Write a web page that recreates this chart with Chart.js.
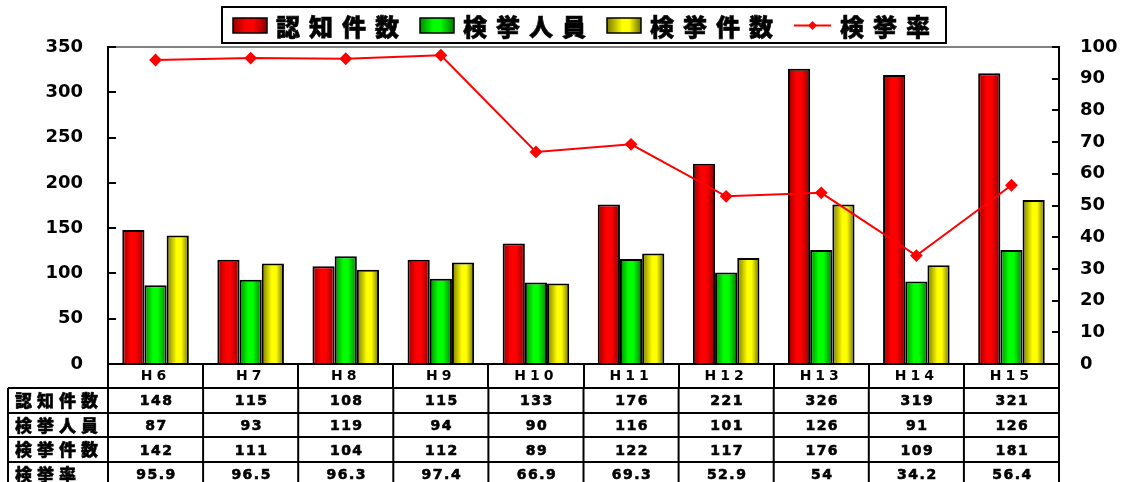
<!DOCTYPE html>
<html><head><meta charset="utf-8">
<script src="https://cdn.jsdelivr.net/npm/chart.js@4/dist/chart.umd.min.js"></script>
<style>html,body{margin:0;padding:0;background:#fff;}canvas{display:block}</style>
</head><body>
<canvas id="c" width="1124" height="482"></canvas>
<script>
// ---- data ----
const categories = ['H6','H7','H8','H9','H10','H11','H12','H13','H14','H15'];
const seriesNames = ['認知件数','検挙人員','検挙件数','検挙率'];
const recognized = [148,115,108,115,133,176,221,326,319,321];
const arrestedPersons = [87,93,119,94,90,116,101,126,91,126];
const arrestedCases = [142,111,104,112,89,122,117,176,109,181];
const arrestRate = [95.9,96.5,96.3,97.4,66.9,69.3,52.9,54,34.2,56.4];
const leftAxis = {min:0, max:350, step:50};
const rightAxis = {min:0, max:100, step:10};

// ---- styles ----
const redShade = [[0,'#9a0000'],[0.38,'#ff0000'],[0.6,'#ff0000'],[1,'#8c0000']];
const greenShade = [[0,'#008a00'],[0.38,'#00ff00'],[0.6,'#00ff00'],[1,'#007a00']];
const yellowShade = [[0,'#7a7a00'],[0.45,'#ffff00'],[0.65,'#ffff00'],[1,'#6e6e00']];
const numFont = '"DejaVu Sans"';
const cjkFont = '"Noto Sans CJK JP"';

function makeGradient(ctx, x0, x1, stops){
  const g = ctx.createLinearGradient(x0,0,x1,0);
  stops.forEach(s=>g.addColorStop(s[0], s[1]));
  return g;
}
function heavyText(ctx, txt, x, y, w){
  ctx.fillText(txt, x, y);
  ctx.lineWidth = w; ctx.strokeStyle = ctx.fillStyle;
  ctx.strokeText(txt, x, y);
}

const prep = {
  id:'prep',
  beforeDraw(chart){
    const ctx = chart.ctx, a = chart.chartArea;
    ctx.save();
    ctx.strokeStyle = '#808080'; ctx.lineWidth = 2;
    ctx.beginPath(); ctx.moveTo(a.left, a.top); ctx.lineTo(a.right, a.top); ctx.stroke();
    ctx.restore();
    Object.values(chart.scales).forEach(s=>{
      const ls = s.options.ticks.letterSpacing;
      if (ls && !s._lsPatched){
        const orig = s.drawLabels;
        s.drawLabels = function(area){ this.ctx.save(); this.ctx.letterSpacing = ls; orig.call(this, area); this.ctx.restore(); };
        s._lsPatched = true;
      }
    });
  },
  beforeDatasetsDraw(chart){
    const ctx = chart.ctx;
    chart.data.datasets.forEach((ds,i)=>{
      if (!ds.shade) return;
      chart.getDatasetMeta(i).data.forEach(el=>{
        const x = el.x, w = el.width;
        el.options = Object.assign({}, el.options, {backgroundColor: makeGradient(ctx, x-w/2, x+w/2, ds.shade)});
      });
    });
  },
  afterDraw(chart){
    const ctx = chart.ctx, xs = chart.scales.x, a = chart.chartArea;
    // ---- legend ----
    ctx.save();
    ctx.lineWidth = 2; ctx.strokeStyle = '#000';
    ctx.strokeRect(222, 7, 724, 36);
    ctx.font = '900 24px ' + cjkFont;
    ctx.letterSpacing = '9px';
    ctx.textBaseline = 'middle'; ctx.textAlign = 'left';
    let x = 233; const cy = 25.5;
    chart.data.datasets.forEach(ds=>{
      if (ds.type === 'line'){
        ctx.strokeStyle = ds.borderColor; ctx.lineWidth = 2;
        ctx.beginPath(); ctx.moveTo(x, cy); ctx.lineTo(x+37, cy); ctx.stroke();
        ctx.fillStyle = ds.borderColor;
        const mx = x+18.5, r = 4.5;
        ctx.beginPath(); ctx.moveTo(mx, cy-r); ctx.lineTo(mx+r, cy); ctx.lineTo(mx, cy+r); ctx.lineTo(mx-r, cy); ctx.closePath(); ctx.fill();
        x += 37;
      } else {
        ctx.fillStyle = makeGradient(ctx, x, x+34, ds.shade);
        ctx.fillRect(x, cy-7.5, 34, 15);
        ctx.strokeStyle = '#000'; ctx.lineWidth = 1.5;
        ctx.strokeRect(x, cy-7.5, 34, 15);
        x += 34;
      }
      x += 9;
      ctx.fillStyle = '#000';
      heavyText(ctx, ds.label, x, cy+1, 0.6);
      x += ctx.measureText(ds.label).width - 9 + 21;
    });
    ctx.restore();

    // ---- data table ----
    const n = chart.data.labels.length;
    const step = xs.getPixelForValue(1) - xs.getPixelForValue(0);
    const bounds = [];
    for (let i=0;i<=n;i++) bounds.push(xs.getPixelForValue(i) - step/2);
    const top = a.bottom + 24, rowH = 24.6, left = 8, bottom = chart.height + 10;
    ctx.save();
    ctx.strokeStyle = '#000'; ctx.lineWidth = 2;
    const rows = chart.data.datasets.length;
    for (let k=0;k<=rows;k++){
      const y = Math.round(top + k*rowH);
      ctx.beginPath(); ctx.moveTo(left, y); ctx.lineTo(bounds[n], y); ctx.stroke();
    }
    [left].concat(bounds).forEach(bx=>{
      ctx.beginPath(); ctx.moveTo(bx, top); ctx.lineTo(bx, bottom); ctx.stroke();
    });
    chart.data.datasets.forEach((ds,r)=>{
      const cyr = top + r*rowH + rowH/2 + 1.5;
      ctx.fillStyle = '#000';
      ctx.textBaseline = 'middle';
      ctx.font = '900 17px ' + cjkFont; ctx.letterSpacing = '5px'; ctx.textAlign = 'left';
      heavyText(ctx, ds.label, 15, cyr - 1, 0.5);
      ctx.font = 'bold 14px ' + numFont; ctx.letterSpacing = '1.5px'; ctx.textAlign = 'center';
      ds.data.forEach((v,i)=>{
        heavyText(ctx, String(v), xs.getPixelForValue(i) + 1, cyr, 0.6);
      });
    });
    ctx.restore();
  }
};

const ctx = document.getElementById('c').getContext('2d');
new Chart(ctx, {
  type: 'bar',
  data: {
    labels: categories,
    datasets: [
      {label: seriesNames[0], data: recognized, shade: redShade, backgroundColor:'#ff0000', borderColor:'#000', borderWidth:2, yAxisID:'y', order:1},
      {label: seriesNames[1], data: arrestedPersons, shade: greenShade, backgroundColor:'#00ff00', borderColor:'#000', borderWidth:2, yAxisID:'y', order:1},
      {label: seriesNames[2], data: arrestedCases, shade: yellowShade, backgroundColor:'#ffff00', borderColor:'#000', borderWidth:2, yAxisID:'y', order:1},
      {type:'line', label: seriesNames[3], data: arrestRate, borderColor:'#ff0000', backgroundColor:'#ff0000', borderWidth:2,
       pointStyle:'rectRot', pointRadius:5, pointBackgroundColor:'#ff0000', pointBorderColor:'#ff0000', tension:0, yAxisID:'y1', order:0}
    ]
  },
  options: {
    responsive:false, devicePixelRatio:1, animation:false,
    layout:{padding:{top:47, left:0, right:0, bottom:0}},
    datasets:{bar:{categoryPercentage:0.7, barPercentage:1.0}},
    plugins:{legend:{display:false}, tooltip:{enabled:false}},
    scales:{
      x:{
        offset:true,
        grid:{display:true, drawOnChartArea:false, drawTicks:true, tickLength:24, color:'#000', lineWidth:2},
        border:{display:true, color:'#000', width:2},
        ticks:{color:'#000', font:{family:'DejaVu Sans', weight:'bold', size:14}, padding:-20, maxRotation:0, autoSkip:false, letterSpacing:'4px'},
        afterFit(s){ s.height = 118; }
      },
      y:{
        position:'left', min:leftAxis.min, max:leftAxis.max,
        grid:{drawOnChartArea:false, drawTicks:true, tickLength:-8, color:'#000', lineWidth:2},
        border:{display:true, color:'#000', width:2},
        ticks:{stepSize:leftAxis.step, color:'#000', font:{family:'DejaVu Sans', weight:'bold', size:18}, padding:33},
        afterFit(s){ s.width = 108; }
      },
      y1:{
        position:'right', min:rightAxis.min, max:rightAxis.max,
        grid:{drawOnChartArea:false, drawTicks:true, tickLength:-7, color:'#000', lineWidth:2},
        border:{display:true, color:'#000', width:2},
        ticks:{stepSize:rightAxis.step, color:'#000', font:{family:'DejaVu Sans', weight:'bold', size:18}, padding:28},
        afterFit(s){ s.width = 65; }
      }
    }
  },
  plugins:[prep]
});
</script>
</body></html>
